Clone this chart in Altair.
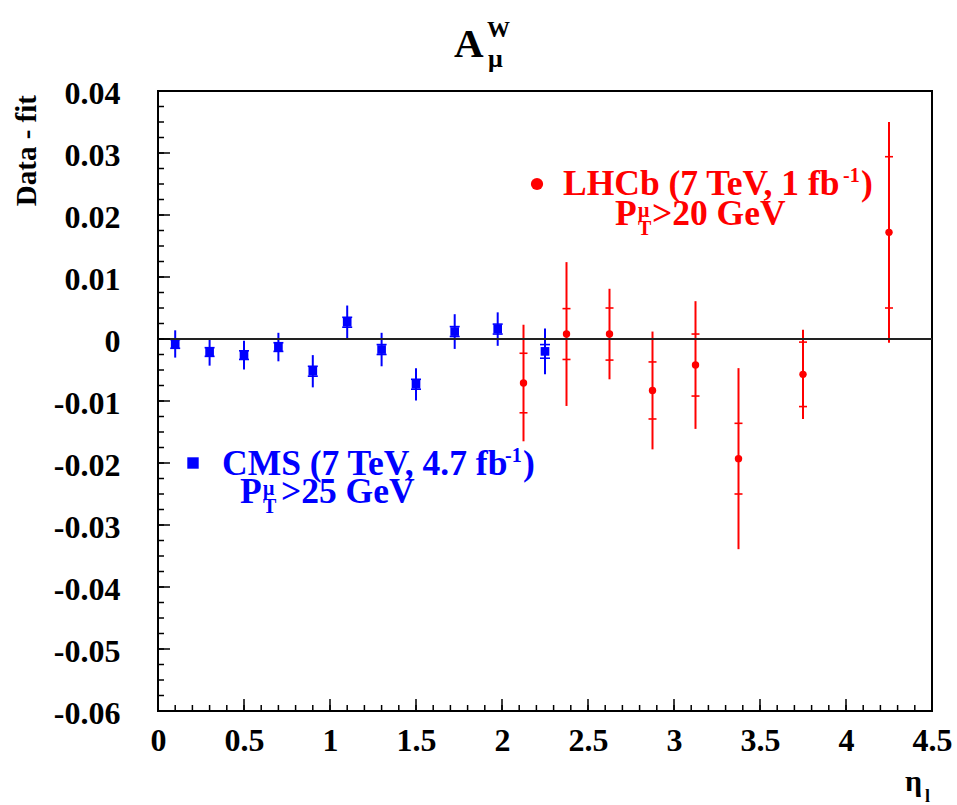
import altair as alt
import pandas as pd

# CMS 7 TeV, 4.7 fb^-1 muon charge asymmetry: data minus fit
cms_eta = [0.1, 0.3, 0.5, 0.7, 0.9, 1.1, 1.3, 1.5, 1.725, 1.975, 2.25]
cms_val = [-0.0008, -0.0021, -0.0026, -0.0013, -0.0052, 0.0027, -0.0017, -0.0073, 0.0012, 0.0016, -0.0020]
cms_err = [0.0022, 0.0022, 0.0023, 0.0023, 0.0026, 0.0027, 0.0027, 0.0026, 0.0028, 0.0027, 0.0037]
cms_stat = [0.0007, 0.0007, 0.0007, 0.0007, 0.0008, 0.0008, 0.0008, 0.0008, 0.0008, 0.0008, 0.0011]

# LHCb 7 TeV, 1 fb^-1
lhcb_eta = [2.125, 2.375, 2.625, 2.875, 3.125, 3.375, 3.75, 4.25]
lhcb_val = [-0.0071, 0.0008, 0.0008, -0.0083, -0.0042, -0.0193, -0.0057, 0.0172]
lhcb_err = [0.0094, 0.0116, 0.0073, 0.0095, 0.0103, 0.0146, 0.0072, 0.0178]
lhcb_stat = [0.0048, 0.0041, 0.0042, 0.0046, 0.0050, 0.0057, 0.0052, 0.0122]

# axis ticks
x_major = [0, 0.5, 1, 1.5, 2, 2.5, 3, 3.5, 4, 4.5]
y_major = [-0.06, -0.05, -0.04, -0.03, -0.02, -0.01, 0, 0.01, 0.02, 0.03, 0.04]
x_minor = [round(i * 0.1, 4) for i in range(46)]
y_minor = [round(-0.06 + i * 0.0025, 5) for i in range(41)]

W, H = 774, 620
FONT = "Liberation Serif"
BLUE = "#0000ff"
RED = "#ff0000"
LEG = 35.5

cms = pd.DataFrame({"eta": cms_eta, "val": cms_val, "err": cms_err, "stat": cms_stat})
lhcb = pd.DataFrame({"eta": lhcb_eta, "val": lhcb_val, "err": lhcb_err, "stat": lhcb_stat})

xs = alt.Scale(domain=[0, 4.5], nice=False, zero=False)
ys = alt.Scale(domain=[-0.06, 0.04], nice=False, zero=False)

X = alt.X("eta:Q", scale=xs, axis=alt.Axis(
    title=None, values=x_major, format="~g", ticks=False, domain=False, grid=False,
    labelFont=FONT, labelFontWeight="bold", labelFontSize=32, labelColor="black",
    labelPadding=14, labelFlush=False, labelOverlap=False))
Y_axis = alt.Axis(
    title=None, values=y_major, format="~g", ticks=False, domain=False, grid=False,
    labelFont=FONT, labelFontWeight="bold", labelFontSize=32, labelColor="black",
    labelPadding=38, labelFlush=False, labelOverlap=False, labelOffset=2,
    labelExpr="replace(datum.label, '\u2212', '-')")


def series(df, color, shape, size, half):
    base = alt.Chart(df).transform_calculate(
        lo="datum.val - datum.err", hi="datum.val + datum.err",
        slo="datum.val - datum.stat", shi="datum.val + datum.stat")
    bars = base.mark_rule(color=color, strokeWidth=2).encode(
        x=X, y=alt.Y("lo:Q", scale=ys, axis=Y_axis), y2="hi:Q")
    t_lo = base.mark_rule(color=color, strokeWidth=1.6, xOffset=-half, x2Offset=half).encode(
        x=alt.X("eta:Q", scale=xs), x2="eta:Q", y=alt.Y("slo:Q", scale=ys))
    t_hi = base.mark_rule(color=color, strokeWidth=1.6, xOffset=-half, x2Offset=half).encode(
        x=alt.X("eta:Q", scale=xs), x2="eta:Q", y=alt.Y("shi:Q", scale=ys))
    pts = base.mark_point(shape=shape, filled=True, opacity=1, color=color, size=size).encode(
        x=alt.X("eta:Q", scale=xs), y=alt.Y("val:Q", scale=ys))
    return [bars, t_lo, t_hi, pts]


one = pd.DataFrame({"k": [0]})


def text(s, x, y, size, color="black", align="left", angle=0, baseline="alphabetic"):
    return alt.Chart(one).mark_text(
        text=s, font=FONT, fontWeight="bold", fontSize=size, color=color,
        align=align, baseline=baseline, angle=angle).encode(
        x=alt.value(x), y=alt.value(y))


def marker(shape, x, y, size, color):
    return alt.Chart(one).mark_point(
        shape=shape, filled=True, opacity=1, color=color, size=size).encode(
        x=alt.value(x), y=alt.value(y))


# inward axis ticks
ytick_major = alt.Chart(pd.DataFrame({"v": y_major})).mark_rule(color="black", strokeWidth=1.5).encode(
    y=alt.Y("v:Q", scale=ys), x=alt.value(0), x2=alt.value(12))
ytick_minor = alt.Chart(pd.DataFrame({"v": y_minor})).mark_rule(color="black", strokeWidth=1.5).encode(
    y=alt.Y("v:Q", scale=ys), x=alt.value(0), x2=alt.value(6))
xtick_major = alt.Chart(pd.DataFrame({"v": x_major})).mark_rule(color="black", strokeWidth=1.5).encode(
    x=alt.X("v:Q", scale=xs), y=alt.value(H), y2=alt.value(H - 12))
xtick_minor = alt.Chart(pd.DataFrame({"v": x_minor})).mark_rule(color="black", strokeWidth=1.5).encode(
    x=alt.X("v:Q", scale=xs), y=alt.value(H), y2=alt.value(H - 6))

zero = alt.Chart(pd.DataFrame({"v": [0]})).mark_rule(color="#222222", strokeWidth=2).encode(
    y=alt.Y("v:Q", scale=ys))

annotations = [
    # title A^W_mu
    text("A", 296, -34, 41),
    text("W", 329, -54, 23),
    text("\u03bc", 330, -24, 26),
    # axis titles
    text("Data - fit", -122, 4, 29, align="right", angle=270),
    text("\u03b7", 747, 700, 30),
    text("l", 767, 711, 18),
    # LHCb legend
    marker("circle", 379, 93, 150, RED),
    text("LHCb (7 TeV, 1 fb", 405, 104, LEG, RED),
    text("-1", 685, 91, 20, RED),
    text(")", 703, 104, LEG, RED),
    text("P", 457, 134, LEG, RED),
    text("\u03bc", 480, 126, 20, RED),
    text("T", 480, 144, 20, RED),
    text(">20 GeV", 494, 134, LEG, RED),
    # CMS legend
    marker("square", 35, 372, 130, BLUE),
    text("CMS (7 TeV, 4.7 fb", 64, 384, LEG, BLUE),
    text("-1", 347, 371, 20, BLUE),
    text(")", 365, 384, LEG, BLUE),
    text("P", 82, 412, LEG, BLUE),
    text("\u03bc", 105, 404, 20, BLUE),
    text("T", 105, 422, 20, BLUE),
    text(">25 GeV", 123, 412, LEG, BLUE),
]

chart = alt.layer(
    *series(cms, BLUE, "square", 75, 5),
    *series(lhcb, RED, "circle", 55, 4),
    zero, ytick_major, ytick_minor, xtick_major, xtick_minor,
    *annotations,
).properties(
    width=W, height=H,
    autosize=alt.AutoSizeParams(type="none"),
    padding={"left": 158, "top": 91, "right": 25, "bottom": 94},
    background="white",
).configure_view(stroke="black", strokeWidth=2)

chart.save("out.html", embed_options={"renderer": "svg", "actions": False})
